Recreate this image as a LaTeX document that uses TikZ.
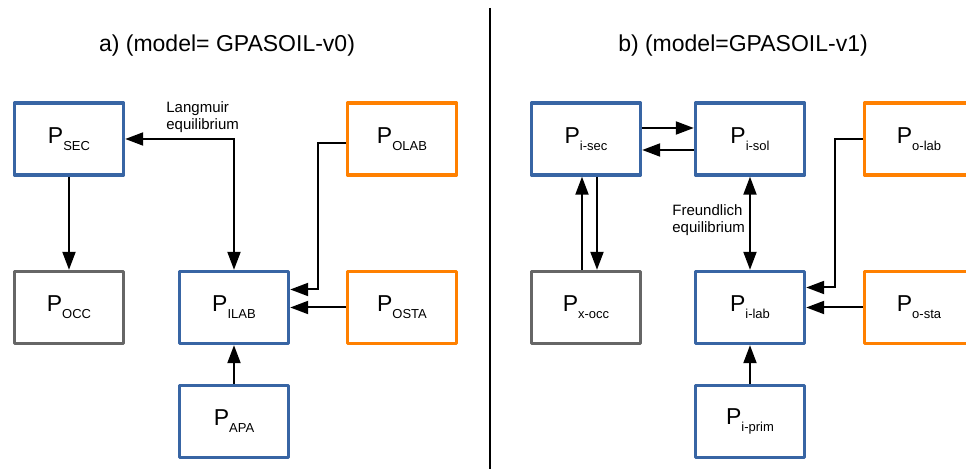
\documentclass[tikz,border=0pt]{standalone}
\usepackage{fontspec}
\setmainfont{Liberation Sans}
\usetikzlibrary{arrows.meta}

\definecolor{pblue}{RGB}{56,101,164}
\definecolor{porange}{RGB}{255,128,0}
\definecolor{pgray}{RGB}{102,102,102}

\newcommand{\pname}[1]{{\fontsize{11.5}{13}\selectfont P}\raisebox{-3.5pt}{\fontsize{6.5}{8}\selectfont #1}}

\begin{document}
\begin{tikzpicture}[x=0.5pt, y=-0.5pt]
		\tikzset{bx/.style={rectangle, draw, line width=1.7pt, line join=round, fill=white, minimum width=54.5pt, minimum height=36pt, inner sep=0pt}};
		\tikzset{ar/.style={line width=1pt, -{Triangle[length=9pt, width=6.5pt]}}};
		\tikzset{lbl/.style={font=\fontsize{7.5}{8.4}\selectfont, align=left, inner sep=0pt}};

		\useasboundingbox (0,0) rectangle (966,469);
		\clip (0,0) rectangle (966,469);

		\node[font=\fontsize{11.5}{13}\selectfont] (ta) at (227,46) {a) (model= GPASOIL-v0)};
		\node[font=\fontsize{11.5}{13}\selectfont] (tb) at (743,46) {b) (model=GPASOIL-v1)};
		\draw[line width=0.6pt] (490,8) -- (490,469);

		% a) GPASOIL-v0
		\node[bx, draw=pblue] (sec) at (69, 139) {\pname{SEC}};
		\node[bx, draw=porange] (olab) at (402, 139) {\pname{OLAB}};
		\node[bx, draw=pgray] (occ) at (69, 307.5) {\pname{OCC}};
		\node[bx, draw=pblue] (ilab) at (234, 307.5) {\pname{ILAB}};
		\node[bx, draw=porange] (osta) at (402, 307.5) {\pname{OSTA}};
		\node[bx, draw=pblue] (apa) at (234, 421.5) {\pname{APA}};
		\node[lbl, anchor=west] (lang) at (166, 117) {Langmuir\\equilibrium};

		\draw[ar] (sec) to (occ);
		\draw[ar, {Triangle[length=9pt, width=6.5pt]}-{Triangle[length=9pt, width=6.5pt]}] (sec.east) -| (ilab.north);
		\draw[ar] ([yshift=-2pt]olab.west) -- +(-28, 0) |- ([yshift=9pt]ilab.east);
		\draw[ar] (osta) to (ilab);
		\draw[ar] (apa) to (ilab);

		% b) GPASOIL-v1
		\node[bx, draw=pblue] (isec) at (586, 139) {\pname{i-sec}};
		\node[bx, draw=pblue] (isol) at (750, 139) {\pname{i-sol}};
		\node[bx, draw=porange] (olab2) at (919, 139) {\pname{o-lab}};
		\node[bx, draw=pgray] (xocc) at (586, 307.5) {\pname{x-occ}};
		\node[bx, draw=pblue] (ilab2) at (750, 307.5) {\pname{i-lab}};
		\node[bx, draw=porange] (osta2) at (919, 307.5) {\pname{o-sta}};
		\node[bx, draw=pblue] (iprim) at (750, 421.5) {\pname{i-prim}};
		\node[lbl, anchor=west] (freund) at (672, 220) {Freundlich\\equilibrium};

		\draw[ar] ([yshift=5.5pt]isec.east) to ([yshift=5.5pt]isol.west);
		\draw[ar] ([yshift=-5.5pt]isol.west) to ([yshift=-5.5pt]isec.east);
		\draw[ar] ([xshift=-2pt]xocc.north) to ([xshift=-2pt]isec.south);
		\draw[ar] ([xshift=5.5pt]isec.south) to ([xshift=5.5pt]xocc.north);
		\draw[ar, {Triangle[length=9pt, width=6.5pt]}-{Triangle[length=9pt, width=6.5pt]}] (isol) to (ilab2);
		\draw[ar] (olab2.west) -- +(-28, 0) |- ([yshift=10pt]ilab2.east);
		\draw[ar] (osta2) to (ilab2);
		\draw[ar] (iprim) to (ilab2);
	\end{tikzpicture}
\end{document}
